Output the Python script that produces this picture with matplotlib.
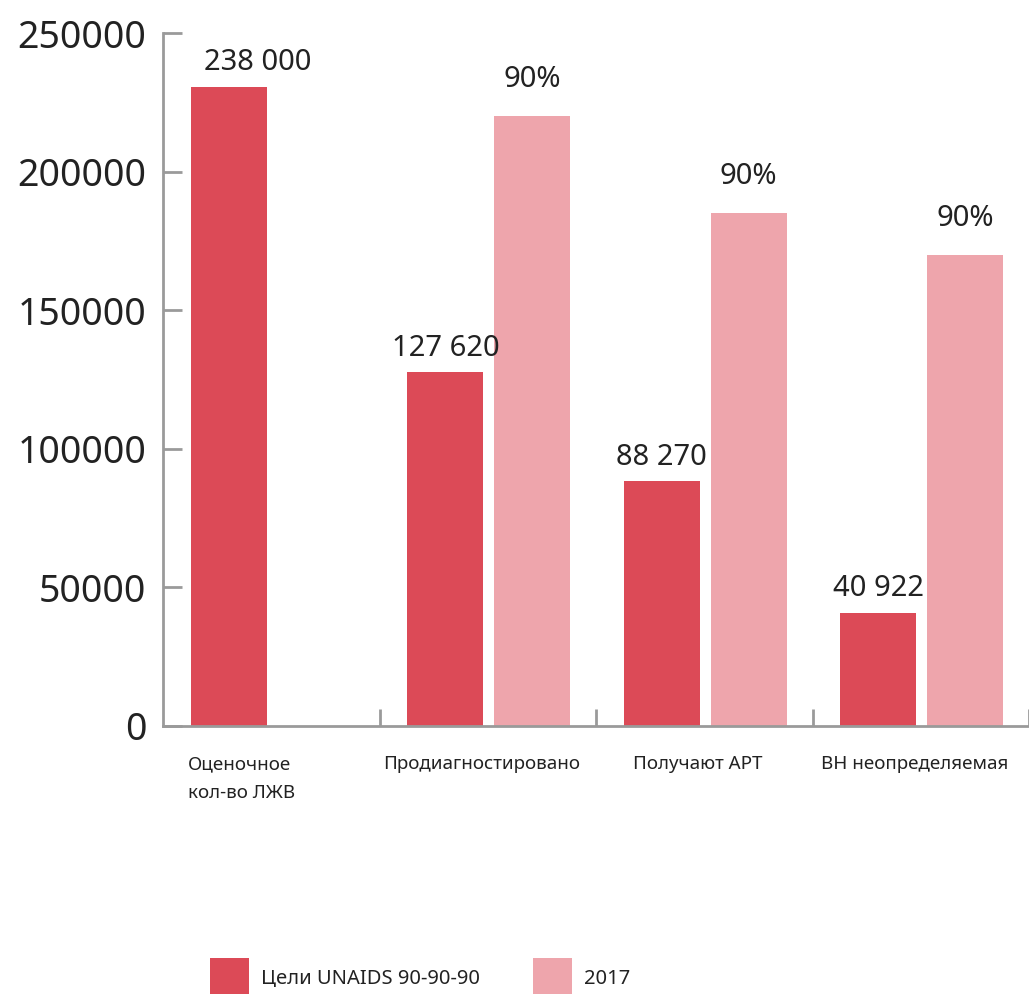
import numpy as np
import matplotlib
matplotlib.use("Agg")
import matplotlib.pyplot as plt

plt.rcParams["font.family"] = ["Noto Sans", "DejaVu Sans"]

categories = ["Оценочное\nкол-во ЛЖВ", "Продиагностировано", "Получают АРТ", "ВН неопределяемая"]
targets = [230500, 127620, 88270, 40922]
year_2017 = [np.nan, 220000, 185000, 170000]
target_labels = ["238 000", "127 620", "88 270", "40 922"]
year_labels = ["", "90%", "90%", "90%"]
series_names = ["Цели UNAIDS 90-90-90", "2017"]
y_ticks = [0, 50000, 100000, 150000, 200000, 250000]

RED = "#DC4A57"
PINK = "#EEA5AC"
AXIS = "#9a9a9a"
TEXT = "#222222"

fig = plt.figure(figsize=(10.29, 9.94), dpi=100)
ax = fig.add_axes([163 / 1029, 1 - 726 / 994, 866 / 1029, 693 / 994])

x = np.arange(len(categories))
w = 0.35
b1 = ax.bar(x - 0.196, targets, w, color=RED, label=series_names[0])
b2 = ax.bar(x + 0.205, year_2017, w, color=PINK, label=series_names[1])

# value labels; the first one sits a bit to the right in the original
for i, (rect, lab) in enumerate(zip(b1, target_labels)):
    cx = rect.get_x() + rect.get_width() / 2
    dx = 21 if i == 0 else 0
    ax.annotate(lab, (cx, rect.get_height()), xytext=(dx, 7),
                textcoords="offset points", ha="center", va="bottom",
                fontsize=21, color=TEXT)
for rect, lab in zip(b2, year_labels):
    if not lab:
        continue
    ax.annotate(lab, (rect.get_x() + rect.get_width() / 2, rect.get_height()),
                xytext=(0, 16), textcoords="offset points", ha="center",
                va="bottom", fontsize=21, color=TEXT)

ax.set_xlim(-0.5, 3.5)
ax.set_ylim(0, 250000)
ax.set_yticks(y_ticks)
ax.set_yticklabels([str(v) for v in y_ticks])
ax.set_xticks([0.5, 1.5, 2.5, 3.5])
ax.set_xticklabels([])

for s in ["top", "right"]:
    ax.spines[s].set_visible(False)
for s in ["left", "bottom"]:
    ax.spines[s].set_color(AXIS)
    ax.spines[s].set_linewidth(2)
ax.tick_params(axis="y", direction="in", length=14, width=2, color=AXIS,
               labelsize=27, labelcolor=TEXT, pad=12)
ax.tick_params(axis="x", direction="in", length=12, width=2, color=AXIS)

for i, name in enumerate(categories):
    if i == 0:
        ax.text(-0.385, -0.042, name, transform=ax.get_xaxis_transform(),
                ha="left", va="top", fontsize=13.5, color=TEXT, linespacing=1.75)
    else:
        ax.text(i - 0.03, -0.042, name, transform=ax.get_xaxis_transform(),
                ha="center", va="top", fontsize=13.5, color=TEXT)

fig.legend(loc="upper left", bbox_to_anchor=(210 / 1029, 1 - 958 / 994),
           ncol=2, frameon=False, fontsize=14.5, handlelength=1.95,
           handleheight=2.7, handletextpad=0.6, columnspacing=2.6,
           borderaxespad=0, borderpad=0, labelcolor=TEXT)

fig.savefig("out.png", dpi=100)
